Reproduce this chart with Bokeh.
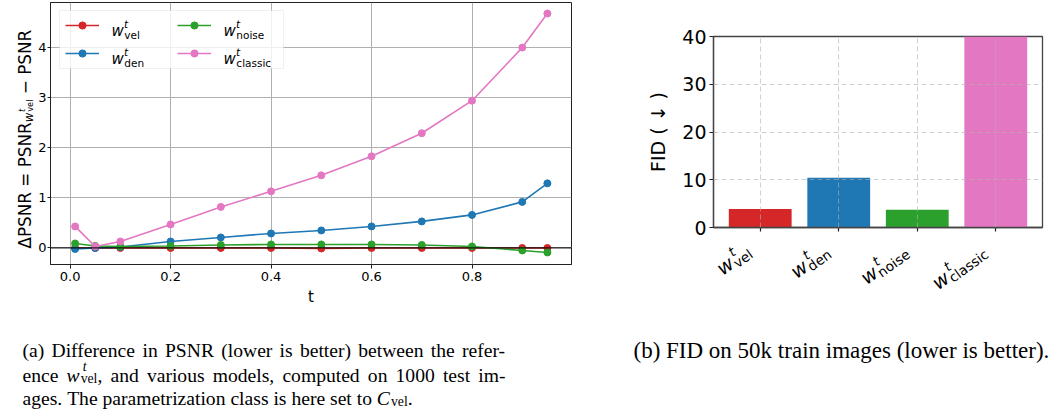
import math
from bokeh.plotting import figure
from bokeh.models import (Range1d, FixedTicker, PrintfTickFormatter, Label,
                          Legend, LegendItem, Span, BoxAnnotation)
from bokeh.layouts import row, column
from bokeh.embed import file_html
from bokeh.resources import INLINE

# ---------------- data ----------------
t_values = [0.01, 0.05, 0.1, 0.2, 0.3, 0.4, 0.5, 0.6, 0.7, 0.8, 0.9, 0.95]
dpsnr_vel = [0.0, 0.0, 0.0, 0.0, 0.0, 0.0, -0.01, 0.0, 0.0, 0.0, 0.0, 0.0]
dpsnr_den = [-0.02, 0.0, 0.02, 0.13, 0.21, 0.29, 0.35, 0.43, 0.53, 0.66, 0.92, 1.29]
dpsnr_noise = [0.09, 0.04, 0.03, 0.04, 0.06, 0.07, 0.07, 0.07, 0.06, 0.03, -0.05, -0.09]
dpsnr_classic = [0.43, 0.03, 0.13, 0.47, 0.82, 1.13, 1.45, 1.83, 2.29, 2.94, 4.0, 4.68]

model_subs = ["vel", "den", "noise", "classic"]
model_colors = ["#d62728", "#1f77b4", "#2ca02c", "#e377c2"]
fid_values = [3.9, 10.4, 3.7, 40.0]

t_ticks = [0.0, 0.2, 0.4, 0.6, 0.8]
dpsnr_ticks = [0, 1, 2, 3, 4]
fid_ticks = [0, 10, 20, 30, 40]

caption_a = [
    ["(a)", "Difference", "in", "PSNR", "(lower", "is", "better)", "between", "the", "refer-"],
    ["ence", ("w", "t", "vel", ","), "and", "various", "models,", "computed", "on", "1000", "test", "im-"],
    ["ages.", "The", "parametrization", "class", "is", "here", "set", "to", ("C", None, "vel", ".")],
]
caption_b = ["(b)", "FID", "on", "50k", "train", "images", "(lower", "is", "better)."]

# ---------------- helpers ----------------
DEJAVU_SUB = {"vel": 1.485, "den": 1.884, "noise": 2.660, "classic": 3.311}
TIMES = {" ": 250, "(": 333, ")": 333, ",": 250, "-": 333, ".": 250, ":": 278}
for _c in "0123456789":
    TIMES[_c] = 500
TIMES.update(dict(zip("ABCDEFGHIJKLMNOPQRSTUVWXYZ",
                      [722, 667, 667, 722, 611, 556, 722, 722, 333, 389, 722, 611, 889,
                       722, 722, 556, 722, 667, 556, 611, 722, 722, 944, 722, 722, 611])))
TIMES.update(dict(zip("abcdefghijklmnopqrstuvwxyz",
                      [444, 500, 444, 500, 444, 333, 500, 500, 278, 278, 500, 278, 778,
                       500, 500, 500, 500, 333, 389, 278, 500, 500, 722, 500, 500, 444])))


def times_w(s, size):
    return sum(TIMES.get(c, 500) for c in s) / 1000.0 * size


def add_text(p, text, x, y, size, style="normal", font="DejaVu Sans", angle=0.0,
             x_units="screen", x_offset=0.0):
    p.add_layout(Label(x=x, y=y, x_units=x_units, y_units="screen", x_offset=x_offset,
                       text=text, angle=angle, angle_units="rad", text_font=font,
                       text_font_size=f"{size:.2f}px", text_font_style=style,
                       text_color="black", text_align="left", text_baseline="alphabetic",
                       level="overlay"))


def rotated_parts(p, parts, sx, sy, angle_deg, x_units="screen", data_x=None,
                  font="DejaVu Sans"):
    a = math.radians(angle_deg)
    ux, uy = math.cos(a), math.sin(a)
    vx, vy = -math.sin(a), math.cos(a)
    for text, s, n, size, style in parts:
        px = sx + s * ux + n * vx
        py = sy + s * uy + n * vy
        if x_units == "data":
            add_text(p, text, data_x, py, size, style, font, a, "data", px)
        else:
            add_text(p, text, px, py, size, style, font, a)


def wt_parts(sub, F, sup_raise, sub_drop, sup_shift=0.3):
    ww = 0.818 * F
    return [("w", 0.0, 0.0, F, "italic"),
            ("t", ww + sup_shift, sup_raise, 0.7 * F, "italic"),
            (sub, ww + 0.6, -sub_drop, 0.7 * F, "normal")]


def token_w(tok, S):
    if isinstance(tok, str):
        return times_w(tok, S)
    base, sup, sub, tail = tok
    return 0.72 * S + times_w(sub, 0.7 * S) + times_w(tail, S)


def draw_token(p, tok, x, y, S, font="Liberation Serif"):
    if isinstance(tok, str):
        add_text(p, tok, x, y, S, "normal", font)
        return
    base, sup, sub, tail = tok
    bw = 0.72 * S
    add_text(p, base, x, y, S, "italic", font)
    if sup:
        add_text(p, sup, x + bw + 2.0, y + 0.46 * S, 0.7 * S, "italic", font)
    add_text(p, sub, x + bw, y - 0.15 * S, 0.7 * S, "normal", font)
    add_text(p, tail, x + bw + times_w(sub, 0.7 * S), y, S, "normal", font)


def caption_line(p, tokens, x0, x1, y, S, justify):
    widths = [token_w(t, S) for t in tokens]
    gap = (x1 - x0 - sum(widths)) / (len(tokens) - 1) if justify else 0.25 * S
    x = x0
    for t, w in zip(tokens, widths):
        draw_token(p, t, x, y, S)
        x += w + gap


def text_canvas(w, h, x_range=None):
    f = figure(width=w, height=h, x_range=x_range if x_range is not None else Range1d(0, w),
               y_range=Range1d(0, h), x_axis_type=None, y_axis_type=None,
               output_backend="svg", toolbar_location=None, frame_align=False,
               min_border=0, min_border_left=0, min_border_right=0,
               min_border_top=0, min_border_bottom=0)
    f.outline_line_color = None
    f.background_fill_color = "white"
    f.border_fill_color = "white"
    f.grid.visible = False
    return f


# ---------------- left chart ----------------
YL_W = 35
p1 = figure(width=600 - YL_W, height=310, x_range=Range1d(-0.039, 0.998), y_range=Range1d(-0.33, 4.90),
            output_backend="svg", toolbar_location=None, frame_align=False,
            min_border_left=48 - YL_W, min_border_right=29, min_border_top=2, min_border_bottom=46)
p1.background_fill_color = "white"
p1.border_fill_color = "white"
p1.outline_line_color = "#222222"
p1.outline_line_width = 1
p1.grid.grid_line_color = "#b0b0b0"
p1.grid.grid_line_width = 1
p1.xaxis.ticker = FixedTicker(ticks=t_ticks)
p1.xaxis.formatter = PrintfTickFormatter(format="%.1f")
p1.yaxis.ticker = FixedTicker(ticks=dpsnr_ticks)
for ax in (p1.xaxis[0], p1.yaxis[0]):
    ax.axis_line_color = "#222222"
    ax.major_tick_line_color = "#222222"
    ax.major_tick_out = 3
    ax.major_tick_in = 0
    ax.minor_tick_line_color = None
    ax.major_label_text_font = "DejaVu Sans"
    ax.major_label_text_font_size = "13px"
    ax.major_label_text_color = "black"
    ax.major_label_standoff = 1
p1.xaxis.major_tick_out = 4
p1.xaxis.major_label_standoff = 3
p1.xaxis.axis_label = "t"
p1.xaxis.axis_label_text_font = "DejaVu Sans"
p1.xaxis.axis_label_text_font_size = "15px"
p1.xaxis.axis_label_text_font_style = "normal"
p1.xaxis.axis_label_text_color = "black"
p1.xaxis.axis_label_standoff = 4

series = [dpsnr_vel, dpsnr_den, dpsnr_noise, dpsnr_classic]
items = []
for vals, col in zip(series, model_colors):
    lr = p1.line(t_values, vals, line_color=col, line_width=1.6)
    sr = p1.scatter(t_values, vals, size=7, fill_color=col, line_color=col)
    items.append(LegendItem(label=" ", renderers=[lr, sr]))

p1.add_layout(Span(location=0, dimension="width", line_color="black", line_width=1.3, line_alpha=0.85))

# legend frame (white, translucent) + handles from Bokeh's Legend + math texts
p1.add_layout(BoxAnnotation(left=9, right=233, bottom=196, top=254,
                            left_units="screen", right_units="screen",
                            bottom_units="screen", top_units="screen",
                            fill_color="white", fill_alpha=0.8,
                            line_color="#cccccc", line_width=1))
legend = Legend(items=items, location=(9, 196), orientation="vertical", nrows=2,
                glyph_width=34, glyph_height=18, label_width=68, label_height=18,
                label_standoff=0, spacing=10, padding=6, margin=0,
                border_line_alpha=0, background_fill_alpha=0,
                label_text_font_size="1px")
p1.add_layout(legend)

F_leg = 15
leg_pos = [(61, 234), (61, 206), (173, 234), (173, 206)]
for sub, (lx, ly) in zip(model_subs, leg_pos):
    rotated_parts(p1, wt_parts(sub, F_leg, 6.7, 4.0), lx, ly, 0)

# y-axis label of left chart, on its own strip: ΔPSNR = PSNR_{w^t_vel} − PSNR
ylab = text_canvas(YL_W, 310)
Fy = 16.8
s1 = 7.52 * Fy
wsz = 0.7 * Fy
ssz = 0.49 * Fy
ylab_parts = [("ΔPSNR = PSNR", 0.0, 0.0, Fy, "normal"),
              ("w", s1, -0.28 * Fy, wsz, "italic"),
              ("t", s1 + 0.818 * wsz + 0.5, -0.28 * Fy + 0.6 * wsz, ssz, "italic"),
              ("vel", s1 + 0.818 * wsz + 0.8, -0.28 * Fy - 0.1 * wsz, ssz, "normal"),
              ("− PSNR", s1 + 0.818 * wsz + 0.8 + DEJAVU_SUB["vel"] * ssz + 0.318 * Fy, 0.0, Fy, "normal")]
rotated_parts(ylab, ylab_parts, 24, 62, 90)

# caption (a)
cap_a = text_canvas(600, 104)
S_a = 19.6
for i, (line, yb) in enumerate(zip(caption_a, [64, 39, 16])):
    caption_line(cap_a, line, 22, 505, yb, S_a, justify=(i < 2))

# ---------------- right chart ----------------
bar_x = list(range(len(fid_values)))
R_W, R_BL, R_BR, R_H = 458, 113, 16, 240
bx0, bx1 = -0.595, 3.595
p2 = figure(width=R_W, height=R_H, x_range=Range1d(bx0, bx1), y_range=Range1d(0, 40),
            output_backend="svg", toolbar_location=None, frame_align=False,
            min_border_left=R_BL, min_border_right=R_BR, min_border_top=36, min_border_bottom=13)
p2.background_fill_color = "white"
p2.border_fill_color = "white"
p2.outline_line_color = "#444444"
p2.outline_line_width = 1.3
p2.vbar(x=bar_x, top=fid_values, width=0.8, fill_color=model_colors, line_color=None)
p2.grid.grid_line_color = "#b0b0b0"
p2.grid.grid_line_alpha = 0.6
p2.grid.grid_line_dash = "5 3"
p2.grid.grid_line_width = 1
p2.xgrid.level = "overlay"
p2.ygrid.level = "overlay"
p2.xaxis.ticker = FixedTicker(ticks=bar_x)
p2.xaxis.major_label_overrides = {i: "" for i in bar_x}
p2.yaxis.ticker = FixedTicker(ticks=fid_ticks)
for ax in (p2.xaxis[0], p2.yaxis[0]):
    ax.axis_line_color = "#444444"
    ax.axis_line_width = 1.3
    ax.major_tick_line_color = "#222222"
    ax.major_tick_line_width = 1.2
    ax.major_tick_out = 4
    ax.major_tick_in = 0
    ax.minor_tick_line_color = None
    ax.major_label_text_font = "DejaVu Sans"
    ax.major_label_text_font_size = "19px"
    ax.major_label_text_color = "black"
    ax.major_label_standoff = 3
p2.xaxis.major_label_text_font_size = "1px"
p2.xaxis.major_label_standoff = 0
p2.yaxis.axis_label = "FID ( ↓ )"
p2.yaxis.axis_label_text_font = "DejaVu Sans"
p2.yaxis.axis_label_text_font_size = "19px"
p2.yaxis.axis_label_text_font_style = "normal"
p2.yaxis.axis_label_text_color = "black"
p2.yaxis.axis_label_standoff = 10

# strip below the bar chart, sharing its x scale (same pixels per unit)
ppu = (R_W - R_BL - R_BR) / (bx1 - bx0)
LAB_H = 414 - R_H
p2lab = text_canvas(R_W, LAB_H, x_range=Range1d(bx0 - R_BL / ppu, bx1 + R_BR / ppu))

F_x = 19.5
ang = 36
a = math.radians(ang)
for i, sub in zip(bar_x, model_subs):
    drop = 0.22 * F_x
    L = 0.818 * F_x + 0.6 + DEJAVU_SUB[sub] * 0.7 * F_x
    ex, ey = -9.0, 162.0
    sx = ex - L * math.cos(a) - drop * math.sin(a)
    sy = ey - L * math.sin(a) + drop * math.cos(a)
    rotated_parts(p2lab, wt_parts(sub, F_x, 0.40 * F_x, drop, sup_shift=3.0), sx, sy, ang,
                  x_units="data", data_x=i)

S_b = 23
caption_line(p2lab, caption_b, 33, 0, 64, S_b, justify=False)

layout = row(column(row(ylab, p1), cap_a), column(p2, p2lab))
open("out.html", "w").write(file_html(layout, INLINE))
